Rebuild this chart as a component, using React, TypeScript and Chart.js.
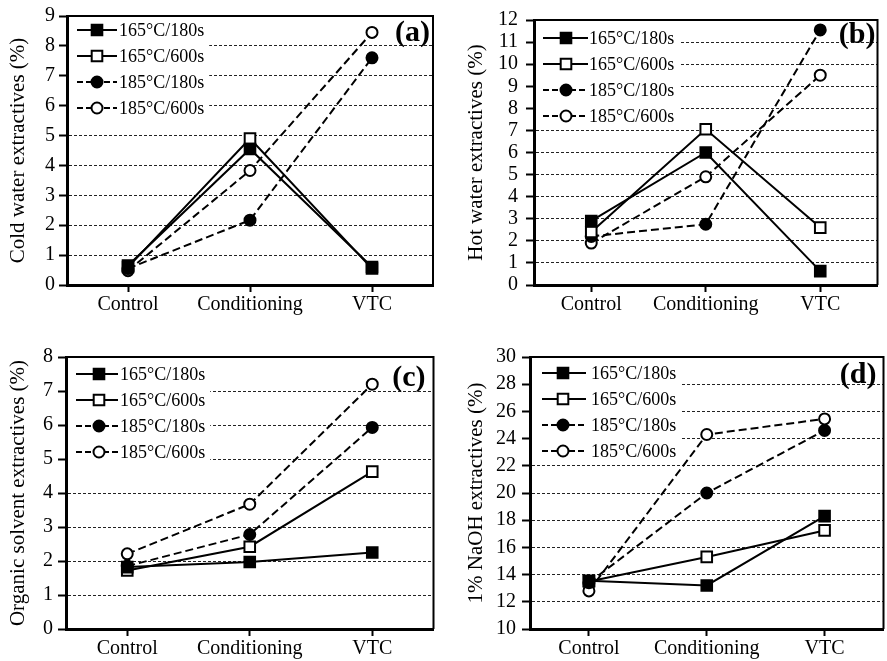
import React, { useEffect, useRef } from "react";
import { Chart, registerables } from "chart.js";
Chart.register(...registerables);

const FONT = '"Liberation Serif", "Times New Roman", serif';

const categories = ["Control", "Conditioning", "VTC"];
const seriesNames = ["165°C/180s", "165°C/600s", "185°C/180s", "185°C/600s"];

// (a) Cold water extractives (%)
const coldWater165_180 = [0.65, 4.55, 0.6];
const coldWater165_600 = [0.6, 4.9, 0.55];
const coldWater185_180 = [0.55, 2.17, 7.6];
const coldWater185_600 = [0.48, 3.83, 8.45];
const coldWaterTicks = [0, 1, 2, 3, 4, 5, 6, 7, 8, 9];

// (b) Hot water extractives (%)
const hotWater165_180 = [2.9, 6.0, 0.63];
const hotWater165_600 = [2.4, 7.05, 2.6];
const hotWater185_180 = [2.2, 2.75, 11.55];
const hotWater185_600 = [1.9, 4.9, 9.5];
const hotWaterTicks = [0, 1, 2, 3, 4, 5, 6, 7, 8, 9, 10, 11, 12];

// (c) Organic solvent extractives (%)
const organic165_180 = [1.82, 1.97, 2.25];
const organic165_600 = [1.72, 2.42, 4.63];
const organic185_180 = [1.85, 2.78, 5.93];
const organic185_600 = [2.21, 3.67, 7.2];
const organicTicks = [0, 1, 2, 3, 4, 5, 6, 7, 8];

// (d) 1% NaOH extractives (%)
const naoh165_180 = [13.55, 13.2, 18.3];
const naoh165_600 = [13.5, 15.3, 17.25];
const naoh185_180 = [13.4, 20.0, 24.6];
const naoh185_600 = [12.8, 24.3, 25.45];
const naohTicks = [10, 12, 14, 16, 18, 20, 22, 24, 26, 28, 30];

const seriesStyles = [
  { pointStyle: "rect", filled: true, dash: [] as number[] },
  { pointStyle: "rect", filled: false, dash: [] as number[] },
  { pointStyle: "circle", filled: true, dash: [8, 4] },
  { pointStyle: "circle", filled: false, dash: [8, 4] },
];

type Panel = {
  tag: string;
  title: string;
  ticks: number[];
  series: number[][];
  box: { left: number; top: number; width: number; height: number };
  area: { left: number; top: number; right: number; bottom: number };
  titleX: number;
  tickPad: number;
  legend: { top: number; lineX1: number; lineX2: number; markX: number; textX: number };
  tagPos: { dx: number; dy: number };
};

const panels: Panel[] = [
  {
    tag: "(a)",
    title: "Cold water extractives (%)",
    ticks: coldWaterTicks,
    series: [coldWater165_180, coldWater165_600, coldWater185_180, coldWater185_600],
    box: { left: 0, top: 0, width: 443, height: 330 },
    area: { left: 67, top: 15, right: 433, bottom: 285 },
    titleX: 18,
    tickPad: 4,
    legend: { top: 14, lineX1: 10, lineX2: 50, markX: 30, textX: 52 },
    tagPos: { dx: 3, dy: 17.5 },
  },
  {
    tag: "(b)",
    title: "Hot water extractives (%)",
    ticks: hotWaterTicks,
    series: [hotWater165_180, hotWater165_600, hotWater185_180, hotWater185_600],
    box: { left: 443, top: 0, width: 444, height: 330 },
    area: { left: 534, top: 17, right: 885, bottom: 285 },
    titleX: 476,
    tickPad: 8,
    legend: { top: 18, lineX1: 9, lineX2: 54, markX: 32, textX: 55 },
    tagPos: { dx: 2, dy: 15 },
  },
  {
    tag: "(c)",
    title: "Organic solvent extractives (%)",
    ticks: organicTicks,
    series: [organic165_180, organic165_600, organic185_180, organic185_600],
    box: { left: 0, top: 330, width: 443, height: 331 },
    area: { left: 66, top: 357, right: 436, bottom: 629 },
    titleX: 18,
    tickPad: 5,
    legend: { top: 17, lineX1: 10, lineX2: 52, markX: 33, textX: 54 },
    tagPos: { dx: 8, dy: 21 },
  },
  {
    tag: "(d)",
    title: "1% NaOH extractives (%)",
    ticks: naohTicks,
    series: [naoh165_180, naoh165_600, naoh185_180, naoh185_600],
    box: { left: 443, top: 330, width: 450, height: 331 },
    area: { left: 530, top: 357, right: 890, bottom: 629 },
    titleX: 476,
    tickPad: 6,
    legend: { top: 16, lineX1: 12, lineX2: 56, markX: 33, textX: 61 },
    tagPos: { dx: 7, dy: 18 },
  },
];

function drawMarker(ctx: CanvasRenderingContext2D, style: string, filled: boolean, x: number, y: number) {
  ctx.save();
  ctx.setLineDash([]);
  ctx.lineWidth = 2;
  ctx.strokeStyle = "#000";
  ctx.fillStyle = filled ? "#000" : "#fff";
  ctx.beginPath();
  if (style === "rect") {
    const h = 7.5 * Math.SQRT1_2;
    ctx.rect(x - h, y - h, 2 * h, 2 * h);
  } else {
    ctx.arc(x, y, 5.5, 0, Math.PI * 2);
  }
  ctx.fill();
  ctx.stroke();
  ctx.restore();
}

function PanelChart({ p }: { p: Panel }) {
  const ref = useRef<HTMLCanvasElement | null>(null);
  useEffect(() => {
    if (!ref.current) return;
    const yWidth = p.area.left - p.box.left;
    const xHeight = p.box.top + p.box.height - p.area.bottom;
    const padTop = p.area.top - p.box.top;
    const padRight = p.box.left + p.box.width - p.area.right;
    const yMin = p.ticks[0];
    const yMax = p.ticks[p.ticks.length - 1];

    const legendPlugin = {
      id: "panelLegend",
      beforeDatasetsDraw(chart: any) {
        const { ctx, chartArea } = chart;
        const L = p.legend;
        ctx.save();
        ctx.font = `18px ${FONT}`;
        const textW = Math.max(...seriesNames.map((n) => ctx.measureText(n).width));
        const boxRight = chartArea.left + L.textX + textW + 5;
        const boxBottom = chartArea.top + L.top + 3 * 26 + 12;
        ctx.fillStyle = "#fff";
        ctx.fillRect(chartArea.left + 2, chartArea.top + 1, boxRight - chartArea.left - 2, boxBottom - chartArea.top - 1);
        seriesNames.forEach((name, i) => {
          const st = seriesStyles[i];
          const y = chartArea.top + L.top + i * 26;
          ctx.save();
          ctx.strokeStyle = "#000";
          ctx.lineWidth = 2;
          ctx.setLineDash(st.dash.length ? [6, 3] : []);
          ctx.beginPath();
          ctx.moveTo(chartArea.left + L.lineX1, y);
          ctx.lineTo(chartArea.left + L.lineX2, y);
          ctx.stroke();
          ctx.restore();
          drawMarker(ctx, st.pointStyle, st.filled, chartArea.left + L.markX, y);
          ctx.fillStyle = "#000";
          ctx.textAlign = "left";
          ctx.textBaseline = "middle";
          ctx.fillText(name, chartArea.left + L.textX, y + 1);
        });
        ctx.restore();
      },
    };

    const framePlugin = {
      id: "panelFrame",
      afterDatasetsDraw(chart: any) {
        const { ctx, chartArea } = chart;
        ctx.save();
        ctx.strokeStyle = "#000";
        ctx.lineWidth = 2;
        ctx.setLineDash([]);
        ctx.beginPath();
        ctx.moveTo(chartArea.left, chartArea.top);
        ctx.lineTo(chartArea.right, chartArea.top);
        ctx.lineTo(chartArea.right, chartArea.bottom);
        ctx.stroke();
        ctx.font = `bold 30px ${FONT}`;
        ctx.fillStyle = "#000";
        ctx.textAlign = "right";
        ctx.textBaseline = "middle";
        ctx.fillText(p.tag, chartArea.right - p.tagPos.dx, chartArea.top + p.tagPos.dy);
        ctx.restore();
      },
    };

    const chart = new Chart(ref.current, {
      type: "line",
      data: {
        labels: categories,
        datasets: p.series.map((data, i) => {
          const st = seriesStyles[i];
          return {
            label: seriesNames[i],
            data,
            borderColor: "#000",
            borderWidth: 2,
            borderDash: st.dash,
            fill: false,
            tension: 0,
            pointStyle: st.pointStyle as any,
            pointRadius: st.pointStyle === "rect" ? 7.5 : 5.5,
            pointHoverRadius: st.pointStyle === "rect" ? 7.5 : 5.5,
            pointBackgroundColor: st.filled ? "#000" : "#fff",
            pointBorderColor: "#000",
            pointBorderWidth: 2,
          };
        }),
      },
      options: {
        responsive: false,
        animation: false,
        events: [],
        layout: { padding: { left: 0, top: padTop, right: padRight, bottom: 0 } },
        plugins: {
          legend: { display: false },
          tooltip: { enabled: false },
        },
        scales: {
          x: {
            type: "category",
            offset: true,
            afterFit: (s: any) => {
              s.height = xHeight;
            },
            grid: {
              display: true,
              drawOnChartArea: false,
              drawTicks: true,
              tickLength: 7,
              tickColor: "#000",
              tickWidth: 2,
            },
            border: { display: true, color: "#000", width: 3 },
            ticks: {
              color: "#000",
              font: { family: FONT, size: 20 },
              padding: 1,
              maxRotation: 0,
              autoSkip: false,
            },
          },
          y: {
            type: "linear",
            min: yMin,
            max: yMax,
            afterFit: (s: any) => {
              s.width = yWidth;
            },
            afterBuildTicks: (s: any) => {
              s.ticks = p.ticks.map((v) => ({ value: v }));
            },
            grid: {
              color: (c: any) =>
                c.tick && (c.tick.value === yMin || c.tick.value === yMax) ? "rgba(0,0,0,0)" : "#222",
              lineWidth: 1,
              drawTicks: true,
              tickLength: 8,
              tickColor: "#000",
              tickWidth: 2,
            },
            border: { display: true, color: "#000", width: 3, dash: [3, 2] },
            ticks: {
              color: "#000",
              font: { family: FONT, size: 20 },
              padding: p.tickPad,
              autoSkip: false,
            },
            title: {
              display: true,
              text: p.title,
              color: "#000",
              font: { family: FONT, size: 21, lineHeight: 1 },
              padding: { top: p.titleX - p.box.left - 10.5, bottom: 0 },
            },
          },
        },
      },
      plugins: [legendPlugin, framePlugin],
    } as any);
    return () => chart.destroy();
  }, [p]);

  return (
    <canvas
      ref={ref}
      width={p.box.width}
      height={p.box.height}
      style={{
        position: "absolute",
        left: p.box.left,
        top: p.box.top,
        width: p.box.width,
        height: p.box.height,
      }}
    />
  );
}

export default function App() {
  return (
    <div
      style={{
        position: "fixed",
        left: 0,
        top: 0,
        width: 887,
        height: 661,
        overflow: "hidden",
        background: "#fff",
      }}
    >
      {panels.map((p) => (
        <PanelChart key={p.tag} p={p} />
      ))}
    </div>
  );
}
